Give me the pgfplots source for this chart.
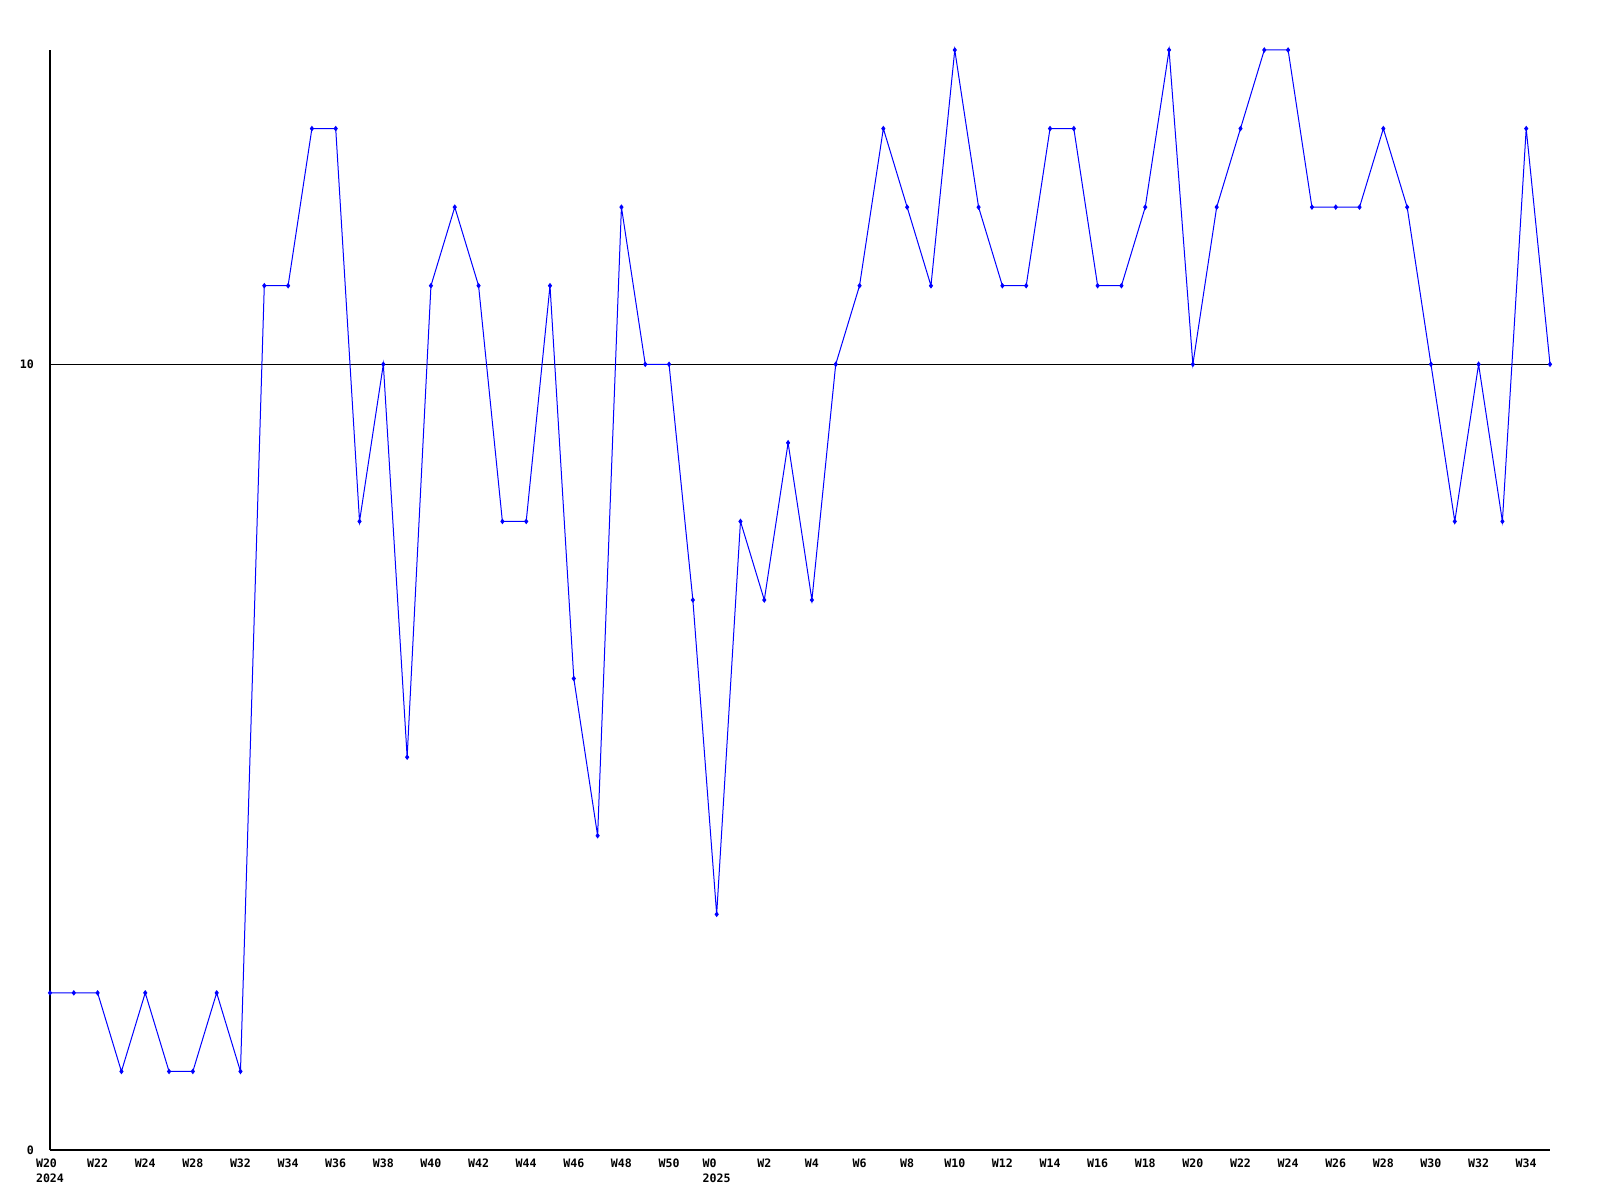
\documentclass[border=0pt]{standalone}
\usepackage{fontspec}
\setmonofont{DejaVu Sans Mono}
\usepackage{pgfplots}
\pgfplotsset{compat=1.18}
\begin{document}
\begin{tikzpicture}
\path (-25pt,-25pt) rectangle (775pt,575pt);
\begin{axis}[
  scale only axis,
  width=750pt, height=550pt,
  at={(0,0)}, anchor=origin,
  xmin=0, xmax=63, ymin=0, ymax=14,
  axis x line*=bottom, axis y line*=left,
  axis line style={line width=0.6pt, -},
  xtick={0,2,...,62},
  xticklabels={{W20\\2024},W22,W24,W28,W32,W34,W36,W38,W40,W42,W44,W46,W48,W50,{W0\\2025},W2,W4,W6,W8,W10,W12,W14,W16,W18,W20,W22,W24,W26,W28,W30,W32,W34},
  ytick={0,10},
  major tick length=0pt,
  tick label style={font=\fontsize{5.8}{7.5}\selectfont\ttfamily\bfseries},
  xticklabel style={align=left, anchor=north, yshift=-0.7pt, execute at begin node={\vphantom{W0123456789}}},
  yticklabel style={anchor=east, xshift=-4.5pt},
  /pgf/number format/assume math mode=true,
  clip=false,
]
\addplot[black, line width=0.6pt] coordinates {(0,10) (63,10)};
\addplot[blue, line width=0.5pt, mark=diamond*, mark size=1pt, mark options={solid, fill=blue}] coordinates {
(0,2) (1,2) (2,2) (3,1) (4,2) (5,1) (6,1) (7,2) (8,1) (9,11)
(10,11) (11,13) (12,13) (13,8) (14,10) (15,5) (16,11) (17,12) (18,11) (19,8)
(20,8) (21,11) (22,6) (23,4) (24,12) (25,10) (26,10) (27,7) (28,3) (29,8)
(30,7) (31,9) (32,7) (33,10) (34,11) (35,13) (36,12) (37,11) (38,14) (39,12)
(40,11) (41,11) (42,13) (43,13) (44,11) (45,11) (46,12) (47,14) (48,10) (49,12)
(50,13) (51,14) (52,14) (53,12) (54,12) (55,12) (56,13) (57,12) (58,10) (59,8)
(60,10) (61,8) (62,13) (63,10)
};
\end{axis}
\end{tikzpicture}
\end{document}
